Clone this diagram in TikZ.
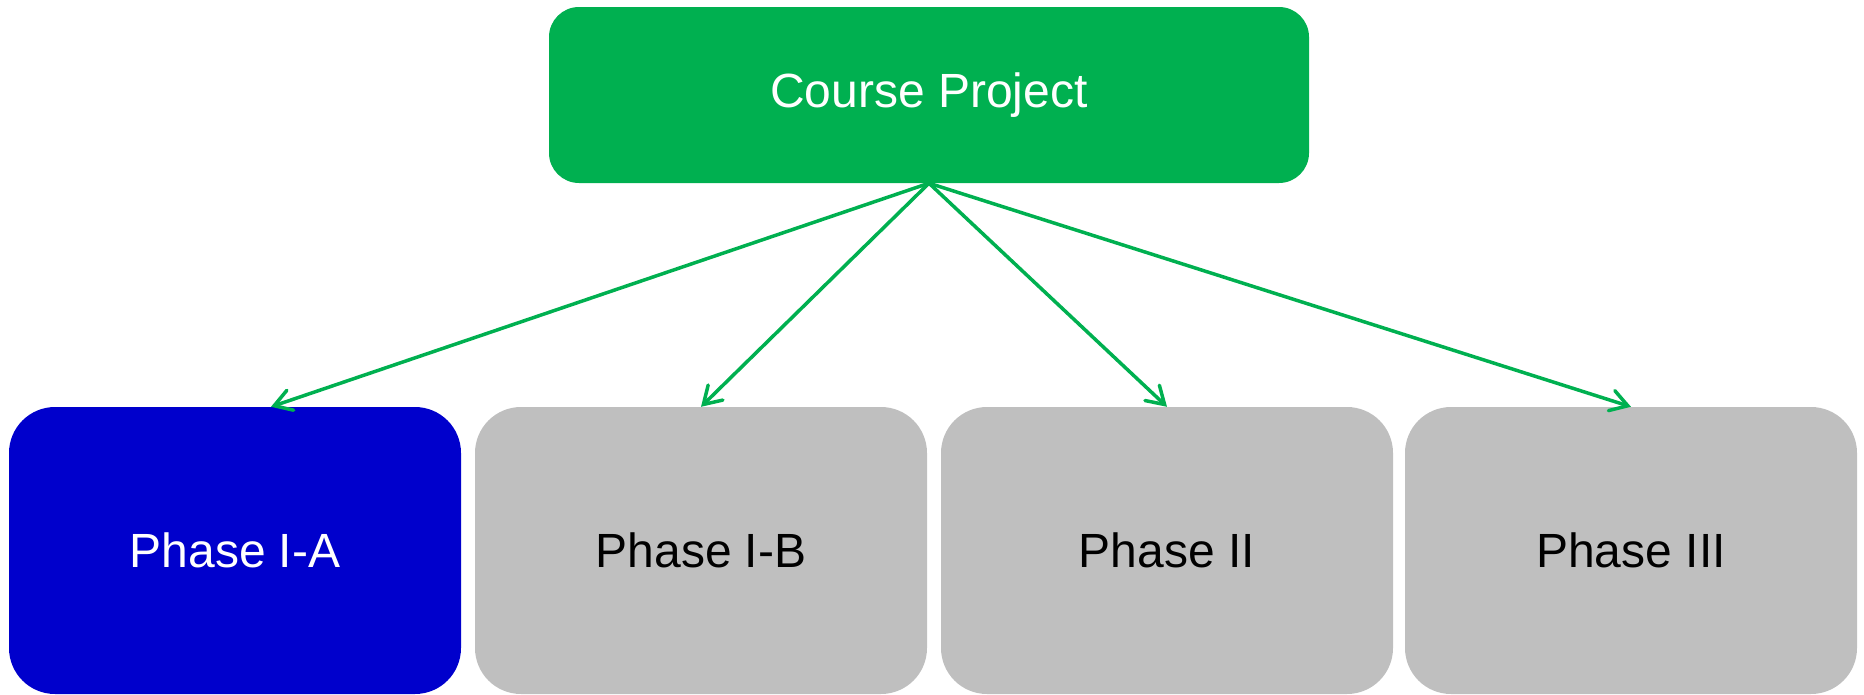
\documentclass[tikz,border=0pt]{standalone}
\usepackage{fontspec}
\setmainfont{Liberation Sans}
\usetikzlibrary{arrows.meta}
\definecolor{projgreen}{HTML}{00B050}
\definecolor{phaseblue}{HTML}{0000CC}
\definecolor{phasegray}{HTML}{BFBFBF}
\tikzset{
  rootbox/.style={fill=projgreen, text=white, rounded corners=30pt, inner sep=0pt,
    minimum width=760pt, minimum height=176pt, font=\fontsize{48}{56}\selectfont},
  phasebox/.style={fill=phasegray, text=black, rounded corners=46pt, inner sep=0pt,
    minimum width=452pt, minimum height=287pt, font=\fontsize{48}{56}\selectfont},
  activebox/.style={phasebox, fill=phaseblue, text=white},
  conn/.style={draw=projgreen, line width=3.5pt,
    -{Straight Barb[length=17pt,width=21pt,line width=3.5pt,line cap=round]}}
}
\begin{document}
\begin{tikzpicture}[x=1pt,y=-1pt]
\useasboundingbox (0,0) rectangle (1864,694);
% root of the project tree
\node[rootbox] (root) at (929,95) {Course Project};
% the four phases
\node[activebox] (pa) at (235,550.5) {Phase I-A};
\node[phasebox] (pb) at (701,550.5) {Phase I-B};
\node[phasebox] (pc) at (1167,550.5) {Phase II};
\node[phasebox] (pd) at (1631,550.5) {Phase III};
% links from the project to each phase
\draw[conn] (root.south) -- ([xshift=36pt]pa.north);
\draw[conn] (root.south) -- (pb.north);
\draw[conn] (root.south) -- (pc.north);
\draw[conn] (root.south) -- (pd.north);
\end{tikzpicture}
\end{document}
